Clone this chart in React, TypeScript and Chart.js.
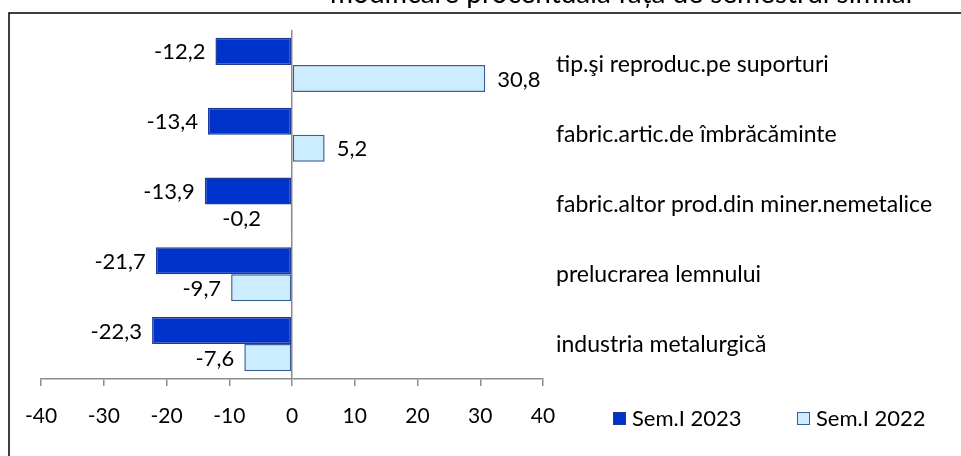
import React, { useEffect, useRef } from "react";
import { Chart, registerables } from "chart.js";

Chart.register(...registerables);

const categories = [
  "tip.şi reproduc.pe suporturi",
  "fabric.artic.de îmbrăcăminte",
  "fabric.altor prod.din miner.nemetalice",
  "prelucrarea lemnului",
  "industria metalurgică",
];
const sem2023 = [-12.2, -13.4, -13.9, -21.7, -22.3];
const sem2022 = [30.8, 5.2, -0.2, -9.7, -7.6];
const seriesNames = ["Sem.I 2023", "Sem.I 2022"];
const xMin = -40;
const xMax = 40;
const xStep = 10;
const titleText = "modificare procentuală față de semestrul similar";

const FONT = "Lato";
const DARK = "#0033CC";
const DARK_BORDER = "#1F3A93";
const LIGHT = "#CCECFF";
const LIGHT_BORDER = "#3A5F99";
const GREY = "#8C8C8C";

const fmt = (v: number) => v.toFixed(1).replace(".", ",");

const overlayPlugin = {
  id: "overlay",
  afterDatasetsDraw(chart: any) {
    const ctx = chart.ctx;
    const xs = chart.scales.x;
    const zeroX = xs.getPixelForValue(0);
    ctx.save();
    ctx.font = `22px ${FONT}`;
    ctx.fillStyle = "#000";
    ctx.textBaseline = "middle";
    chart.data.datasets.forEach((ds: any, di: number) => {
      const meta = chart.getDatasetMeta(di);
      meta.data.forEach((bar: any, i: number) => {
        const v = ds.data[i];
        const t = fmt(v);
        if (v >= 0) {
          ctx.textAlign = "left";
          ctx.fillText(t, bar.x + 12, bar.y + 1);
        } else {
          ctx.textAlign = "right";
          const xr = Math.min(bar.x - 10, zeroX - 31);
          ctx.fillText(t, xr, bar.y + 1);
        }
      });
    });
    ctx.restore();
  },
  afterDraw(chart: any) {
    const ctx = chart.ctx;
    ctx.save();
    // frame
    ctx.strokeStyle = "#000";
    ctx.lineWidth = 1.5;
    ctx.beginPath();
    ctx.moveTo(9, 456);
    ctx.lineTo(9, 13);
    ctx.lineTo(961, 13);
    ctx.stroke();
    // title (cut off at top)
    ctx.font = `28px ${FONT}`;
    ctx.fillStyle = "#000";
    ctx.textAlign = "left";
    ctx.textBaseline = "alphabetic";
    ctx.fillText(titleText, 330, 3);
    // legend
    ctx.font = `22px ${FONT}`;
    ctx.textBaseline = "middle";
    const items = [
      { x: 613, fill: DARK, border: DARK_BORDER },
      { x: 797, fill: LIGHT, border: LIGHT_BORDER },
    ];
    items.forEach((it, i) => {
      ctx.fillStyle = it.fill;
      ctx.fillRect(it.x, 412, 13, 13);
      ctx.strokeStyle = it.border;
      ctx.lineWidth = 1;
      ctx.strokeRect(it.x + 0.5, 412.5, 12, 12);
      ctx.fillStyle = "#000";
      ctx.fillText(seriesNames[i], it.x + 19, 419);
    });
    ctx.restore();
  },
};

export default function App() {
  const ref = useRef<HTMLCanvasElement>(null);
  useEffect(() => {
    if (!ref.current) return;
    const chart = new Chart(ref.current, {
      type: "bar",
      data: {
        labels: categories,
        datasets: [
          {
            label: seriesNames[0],
            data: sem2023,
            backgroundColor: DARK,
            borderColor: DARK_BORDER,
            borderWidth: 1.5,
            borderSkipped: false,
          },
          {
            label: seriesNames[1],
            data: sem2022,
            backgroundColor: LIGHT,
            borderColor: LIGHT_BORDER,
            borderWidth: 1.5,
            borderSkipped: false,
          },
        ],
      },
      options: {
        indexAxis: "y",
        responsive: false,
        animation: false,
        layout: { padding: { left: 41, top: 30, right: 0, bottom: 0 } },
        datasets: {
          bar: { categoryPercentage: 0.775, barPercentage: 1 },
        },
        plugins: {
          legend: { display: false },
          tooltip: { enabled: false },
          title: { display: false },
        },
        scales: {
          x: {
            type: "linear",
            min: xMin,
            max: xMax,
            afterFit: (s: any) => {
              s.height = 77;
            },
            ticks: {
              stepSize: xStep,
              color: "#000",
              font: { family: FONT, size: 21 },
              padding: 18,
              maxRotation: 0,
            },
            grid: {
              color: (c: any) => (c.tick && c.tick.value === 0 ? GREY : "rgba(0,0,0,0)"),
              tickColor: GREY,
              tickLength: 7,
              lineWidth: 1.5,
              drawTicks: true,
            },
            border: { display: true, color: GREY, width: 1.5 },
          },
          y: {
            type: "category",
            position: "right",
            afterFit: (s: any) => {
              s.width = 418;
            },
            ticks: {
              color: "#000",
              font: { family: FONT, size: 23 },
              padding: 13,
            },
            grid: { display: false, drawTicks: false },
            border: { display: false },
          },
        },
      },
      plugins: [overlayPlugin],
    });
    return () => chart.destroy();
  }, []);
  return (
    <div style={{ position: "absolute", left: 0, top: 0, width: 961, height: 456, background: "#fff" }}>
      <canvas ref={ref} width={961} height={456} style={{ display: "block" }} />
    </div>
  );
}
